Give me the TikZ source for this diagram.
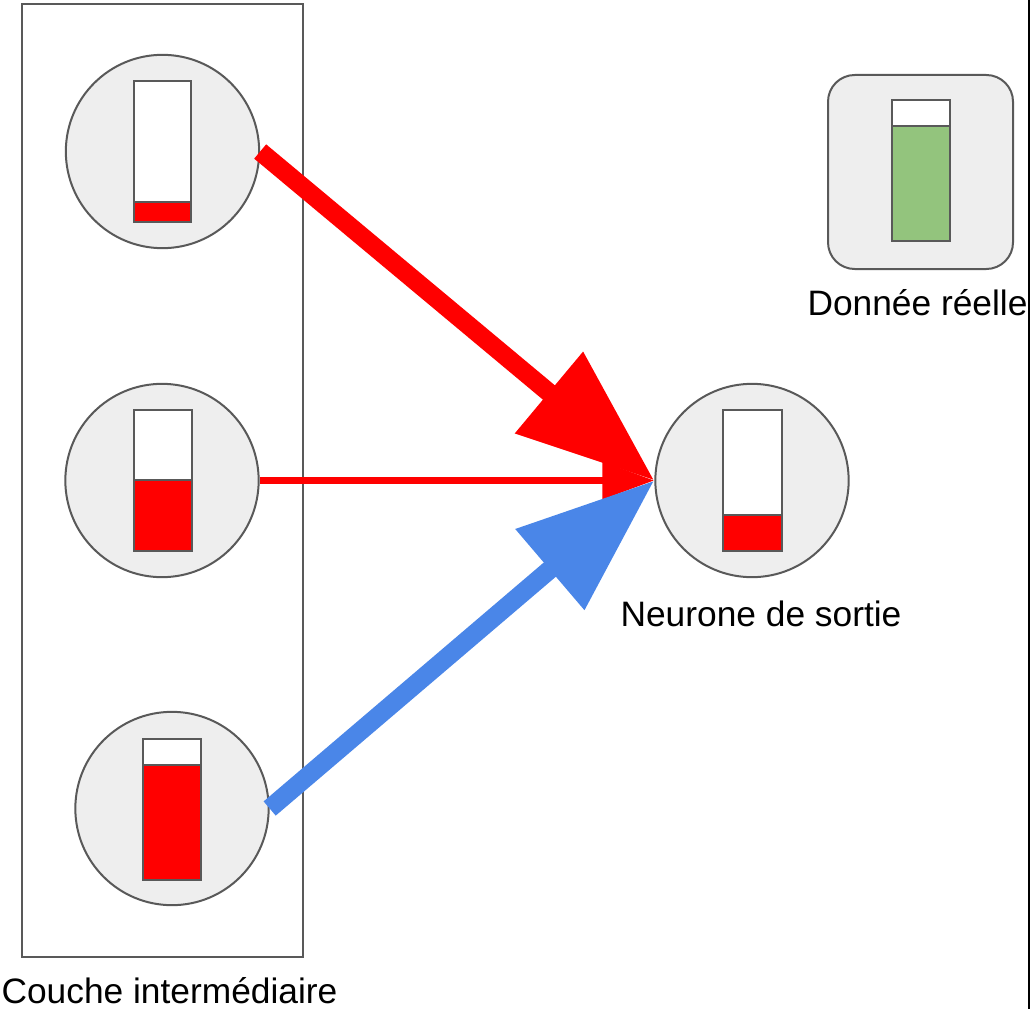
\documentclass[tikz,border=0pt]{standalone}
\usepackage{fontspec}
\setmainfont{Liberation Sans}
\usepackage{tikz}
\usetikzlibrary{arrows.meta}
\definecolor{gris}{HTML}{595959}
\definecolor{fond}{HTML}{EEEEEE}
\definecolor{rouge}{HTML}{FF0000}
\definecolor{bleu}{HTML}{4A86E8}
\definecolor{vert}{HTML}{93C47D}

\begin{document}
\begin{tikzpicture}[x=0.75pt,y=-0.75pt,
		neurone/.style={circle,draw=gris,fill=fond,line width=1.5pt,minimum size=145pt,inner sep=0pt},
		cadre/.style={draw=gris,line width=1.5pt},
		etiquette/.style={anchor=base,inner sep=0pt,font=\fontsize{26.5}{31}\selectfont},
		grosse/.style={line width=14pt,-{Triangle[length=103pt,width=76pt]}},
		fine/.style={line width=5.5pt,-{Triangle[length=39pt,width=27pt]}}]
			\useasboundingbox (0,0) rectangle (1030,1009);

			% couche intermediaire
			\draw[cadre] (22,4) rectangle (303,957);
			\node[neurone] (n1) at (162.5,151.5) {};
			\node[neurone] (n2) at (162,480.5) {};
			\node[neurone] (n3) at (172,808.5) {};
			\node[etiquette] (couche) at (169.5,1003) {Couche intermédiaire};

			% sortie et donnee reelle
			\node[neurone] (sortie) at (752,480.5) {};
			\node[etiquette] (lsortie) at (761,626) {Neurone de sortie};
			\node[cadre,fill=fond,rounded corners=20pt,minimum width=138.75pt,minimum height=145.5pt] (reel) at (920.5,172) {};
			\node[etiquette] (lreel) at (917.5,315) {Donnée réelle};

			% jauges
			\foreach \xa/\ya/\xb/\yb/\yn/\coul in {134/81/191/222/202/rouge, 134/410/192/551/480/rouge,
					143/739/201/880/765/rouge, 723/410/782/551/515/rouge, 892/100/950/241/126/vert}
			{
				\fill[white] (\xa,\ya) rectangle (\xb,\yb);
				\fill[\coul] (\xa,\yn) rectangle (\xb,\yb);
				\draw[cadre,line width=2pt] (\xa,\ya) rectangle (\xb,\yb);
				\draw[cadre,line width=2pt] (\xa,\yn) -- (\xb,\yn);
			}

			% poids
			\draw[grosse,rouge] (n1.east) -- (sortie.west);
			\draw[fine,rouge] (n2.east) -- (sortie.west);
			\draw[grosse,bleu] (n3.east) -- (sortie.west);

			\draw[line width=1.5pt] (1028.5,0) -- (1028.5,1009);
			\end{tikzpicture}
\end{document}
